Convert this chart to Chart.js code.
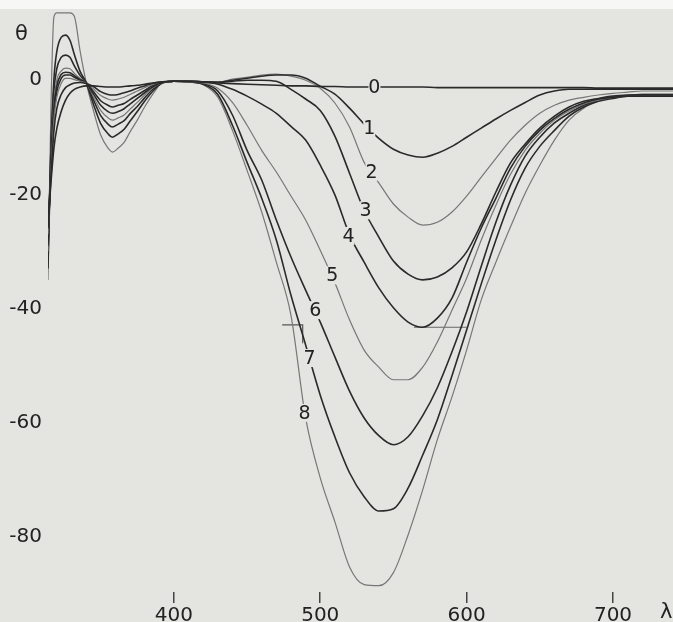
<!DOCTYPE html>
<html>
<head>
<meta charset="utf-8">
<title>CD spectra</title>
<script src="https://cdn.jsdelivr.net/npm/chart.js@4.4.0/dist/chart.umd.min.js"></script>
<style>
  body { margin: 0; background: #e4e4e1; }
  canvas { display: block; }
</style>
</head>
<body>
<canvas id="chart" width="673" height="622"></canvas>
<script>
// wavelength (nm), shared by every trace
let wavelengths = [314, 316, 318, 320, 323, 326, 329, 332, 336, 340,
    345, 350, 355, 358, 362, 366, 370, 375, 380, 386, 392,
    400, 410, 420,
    430, 440, 450, 460, 470, 480, 490, 500, 510, 520,
    530, 540, 550, 560, 570, 580, 590, 600, 610, 620,
    630, 640, 650, 660, 670, 680, 690, 700, 710, 720,
    730, 741];

// ellipticity θ for traces 0..8
let curve0 = [-25, -18, -12, -8.5, -5.5, -3.5, -2.3, -1.6, -1.2, -1.0,
    -1.0, -1.1, -1.2, -1.2, -1.2, -1.1, -1.0, -0.9, -0.7, -0.5, -0.3,
    -0.2, -0.2, -0.3,
    -0.5, -0.6, -0.7, -0.8, -0.9, -1.0, -1.0, -1.1, -1.1, -1.2,
    -1.2, -1.2, -1.2, -1.2, -1.2, -1.3, -1.3, -1.3, -1.3, -1.3,
    -1.3, -1.3, -1.3, -1.3, -1.3, -1.3, -1.4, -1.4, -1.4, -1.4,
    -1.4, -1.4];
let curve1 = [-26, -17, -9, -5, -2.5, -1.3, -0.8, -0.5, -0.4, -0.6,
    -1.1, -2.0, -2.5, -2.6, -2.5, -2.2, -1.9, -1.4, -1.0, -0.5, -0.3,
    -0.2, -0.2, -0.3,
    -0.35, 0, 0.35, 0.7, 0.9, 0.9, 0.35, -1.05, -2.45, -4.9,
    -7.7, -10.2, -12.1, -13.1, -13.5, -12.8, -11.6, -10.0, -8.4, -6.8,
    -5.3, -3.9, -2.6, -1.9, -1.6, -1.6, -1.6, -1.6, -1.6, -1.6,
    -1.6, -1.6];
let curve2 = [-27, -16, -7, -3, -0.6, 0.3, 0.3, 0.1, -0.2, -0.5,
    -1.5, -2.7, -3.3, -3.5, -3.3, -3.0, -2.5, -1.9, -1.3, -0.7, -0.3,
    -0.2, -0.2, -0.3,
    -0.35, 0.2, 0.5, 0.9, 1.05, 0.7, 0, -1.4, -4.0, -8.2,
    -14.4, -18.0, -21.7, -24.0, -25.4, -24.9, -23.1, -20.3, -17.0, -13.7,
    -10.5, -7.9, -5.8, -4.4, -3.5, -3.0, -2.6, -2.3, -2.1, -1.9,
    -1.9, -1.9];
let curve3 = [-28, -15, -6, -2, 0.3, 0.9, 0.9, 0.5, 0, -0.4,
    -2.0, -3.6, -4.4, -4.7, -4.4, -4.1, -3.4, -2.6, -1.8, -0.9, -0.4,
    -0.2, -0.2, -0.3,
    -0.35, -0.2, 0, 0, -0.2, -1.6, -3.3, -5.3, -9.8, -16.3,
    -22.8, -27.5, -31.7, -34.0, -35.0, -34.5, -32.9, -30.1, -25.2, -19.6,
    -14.5, -11.2, -8.4, -6.3, -4.7, -3.7, -3.2, -2.8, -2.6, -2.5,
    -2.5, -2.5];
let curve4 = [-29, -14, -5, -1, 1, 1.4, 1.3, 0.8, 0.1, -0.4,
    -2.4, -4.4, -5.5, -5.8, -5.5, -5.0, -4.2, -3.2, -2.2, -1.1, -0.4,
    -0.2, -0.2, -0.3,
    -0.7, -1.6, -2.8, -4.2, -5.8, -8.1, -10.5, -14.9, -20.1, -27.1,
    -31.9, -36.4, -39.9, -42.4, -43.3, -41.7, -38.2, -31.9, -25.9, -20.7,
    -15.4, -11.6, -8.8, -6.7, -5.1, -4.0, -3.3, -3.0, -2.8, -2.8,
    -2.8, -2.8];
let curve5 = [-30, -13, -4, 0, 1.6, 2.1, 2.0, 1.2, 0.3, -0.4,
    -2.9, -5.3, -6.6, -7.0, -6.6, -6.1, -5.1, -3.9, -2.6, -1.3, -0.5,
    -0.2, -0.3, -0.5,
    -1.4, -3.9, -7.9, -12.3, -16.1, -20.3, -24.5, -29.8, -35.5, -42.0,
    -47.3, -50.3, -52.5, -52.5, -50.3, -45.9, -40.3, -34.7, -28.0, -21.9,
    -16.5, -12.3, -9.3, -7.0, -5.4, -4.2, -3.5, -3.0, -2.8, -2.8,
    -2.8, -2.8];
let curve6 = [-31, -12, -2, 2, 4, 4.4, 4, 2.5, 0.8, -0.4,
    -3.4, -6.2, -7.7, -8.2, -7.7, -7.1, -5.9, -4.6, -3.1, -1.5, -0.5,
    -0.2, -0.3, -0.6,
    -1.9, -6.1, -12.3, -17.5, -24.5, -31.0, -36.8, -42.4, -48.5, -54.5,
    -59.2, -62.3, -63.9, -62.5, -58.8, -53.9, -47.6, -40.6, -32.6, -24.9,
    -18.4, -13.3, -10.0, -7.5, -5.8, -4.4, -3.5, -3.0, -2.8, -2.8,
    -2.8, -2.8];
let curve7 = [-33, -12, 0, 5, 7.5, 7.9, 7, 4.5, 1.5, -0.4,
    -4.2, -7.6, -9.4, -10, -9.4, -8.6, -7.2, -5.5, -3.7, -1.8, -0.5,
    -0.2, -0.3, -0.7,
    -2.5, -7.9, -14.4, -20.7, -28.0, -37.7, -46.4, -55.2, -62.5, -68.8,
    -73.0, -75.5, -75.1, -71.5, -65.7, -59.5, -51.8, -43.8, -35.7, -28.0,
    -21.0, -15.4, -11.6, -8.8, -6.3, -4.7, -3.7, -3.2, -2.8, -2.8,
    -2.8, -2.8];
// trace 8 runs into the top of the paper (flat top)
let curve8 = [-35, -5, 11, 11.8, 11.8, 11.8, 11.8, 11.2, 5, -0.3,
    -5.3, -9.6, -11.9, -12.6, -11.9, -10.9, -9.1, -7.0, -4.7, -2.3, -0.5,
    -0.2, -0.3, -0.8,
    -3.0, -8.8, -15.8, -23.1, -31.9, -41.2, -59.2, -69.7, -77.4, -85.3,
    -88.4, -88.6, -86.3, -79.7, -71.8, -63.0, -55.5, -47.3, -38.5, -31.9,
    -25.7, -19.8, -14.9, -10.5, -7.0, -4.9, -3.7, -3.0, -2.6, -2.5,
    -2.5, -2.5];

// pen jumps of the recorder
let step1X = [474, 488, 488];
let step1Y = [-42.9, -42.9, -46.1];
let step2X = [564, 600];
let step2Y = [-43.3, -43.3];

let curveNames = ["0", "1", "2", "3", "4", "5", "6", "7", "8"];
let labelX = [537, 533.5, 535, 531, 519.3, 508.3, 496.7, 492.7, 489.2];
let labelY = [-1.2, -8.4, -16.1, -22.8, -27.3, -34.2, -40.3, -48.7, -58.3];

let xTicks = [400, 500, 600, 700];
let yTicks = [0, -20, -40, -60, -80];

let curves = [curve0, curve1, curve2, curve3, curve4, curve5, curve6, curve7, curve8];
let light = [2, 5, 8];

const paperColor = '#e4e4e1';
const ink = '#222';
const face = '"DejaVu Sans", Arial, sans-serif';

function toPoints(xs, ys) {
    return xs.map((x, i) => ({ x: x, y: ys[i] }));
}

let datasets = curves.map((c, i) => ({
    label: curveNames[i],
    data: toPoints(wavelengths, c),
    borderColor: light.includes(i) ? '#777' : '#2a2a2a',
    borderWidth: light.includes(i) ? 1.2 : 1.6,
    pointRadius: 0,
    cubicInterpolationMode: 'monotone'
}));
datasets.push({ data: toPoints(step1X, step1Y), borderColor: '#555', borderWidth: 1.2, pointRadius: 0 });
datasets.push({ data: toPoints(step2X, step2Y), borderColor: '#666', borderWidth: 1.2, pointRadius: 0 });

// paper, curve numbers and axis symbols
const paper = {
    id: 'paper',
    beforeDraw(chart) {
        const ctx = chart.ctx;
        ctx.save();
        ctx.fillStyle = paperColor;
        ctx.fillRect(0, 0, chart.width, chart.height);
        ctx.fillStyle = '#f7f7f5';
        ctx.fillRect(0, 0, chart.width, 9);
        ctx.restore();
    },
    afterDatasetsDraw(chart) {
        const ctx = chart.ctx;
        const xs = chart.scales.x, ys = chart.scales.y;
        ctx.save();
        ctx.font = '19px ' + face;
        ctx.textAlign = 'center';
        ctx.textBaseline = 'middle';
        curveNames.forEach((t, i) => {
            const px = xs.getPixelForValue(labelX[i]);
            const py = ys.getPixelForValue(labelY[i]);
            ctx.fillStyle = paperColor;
            ctx.fillRect(px - 6, py - 9, 12, 18);
            ctx.fillStyle = ink;
            ctx.fillText(t, px, py + 1);
        });
        ctx.font = '21px ' + face;
        ctx.textAlign = 'left';
        ctx.fillText('θ', 15, 35);
        ctx.fillText('λ', 660, 613);
        ctx.restore();
    }
};

Chart.defaults.font.family = face;

let chart = new Chart(document.getElementById('chart'), {
    type: 'line',
    data: { datasets: datasets },
    options: {
        responsive: false,
        animation: false,
        layout: { padding: { top: 10, left: 0, right: 0, bottom: 0 } },
        plugins: { legend: { display: false }, tooltip: { enabled: false } },
        scales: {
            x: {
                type: 'linear',
                min: 314,
                max: 741,
                afterBuildTicks: s => { s.ticks = xTicks.map(v => ({ value: v })); },
                afterFit: s => { s.height = 30; s.paddingLeft = 0; s.paddingRight = 0; },
                grid: { drawOnChartArea: false, tickLength: 11, color: '#444', lineWidth: 1.5 },
                border: { display: false },
                ticks: { padding: 1, color: ink, font: { size: 20 }, maxRotation: 0, autoSkip: false }
            },
            y: {
                min: -89.7,
                max: 12.3,
                afterBuildTicks: s => { s.ticks = yTicks.map(v => ({ value: v })); },
                afterFit: s => { s.width = 48; s.paddingTop = 0; s.paddingBottom = 0; },
                grid: { display: false, drawTicks: false },
                border: { display: false },
                ticks: { padding: 6, color: ink, font: { size: 20 } }
            }
        }
    },
    plugins: [paper]
});
</script>
</body>
</html>
